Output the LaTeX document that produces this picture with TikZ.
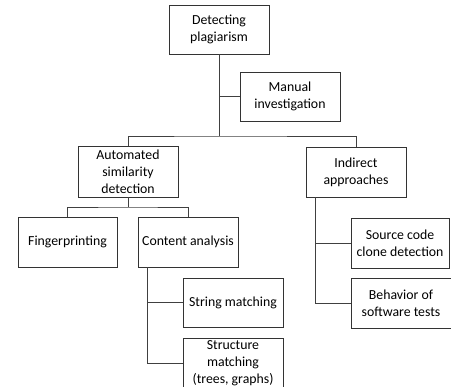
\documentclass[tikz,border=0pt]{standalone}
\usepackage{fontspec}
\setmainfont{Carlito}
\begin{document}
\begin{tikzpicture}[x=1pt,y=-1pt,
  box/.style={draw=black!80, line width=0.9pt, minimum width=100pt, minimum height=50pt,
    align=center, inner sep=0pt, font=\fontsize{13.8}{16.8}\selectfont},
  conn/.style={draw=black!75, line width=0.9pt}]
\useasboundingbox (0,0) rectangle (451,387);
\clip (0,0) rectangle (451,387);
\node[box, minimum height=49pt] (det) at (219,29.5) {Detecting\\plagiarism};
\node[box, minimum height=49pt] (man) at (290,96.5) {Manual\\investigation};
\node[box, minimum height=51pt] (auto) at (128,171.5) {Automated\\similarity\\detection};
\node[box] (ind) at (356,172) {Indirect\\approaches};
\node[box, minimum width=99pt] (fing) at (67.5,242) {Fingerprinting};
\node[box] (cont) at (188,242) {Content analysis};
\node[box, minimum height=49pt] (str) at (233,302.5) {String matching};
\node[box] (struct) at (233,363) {Structure\\matching\\(trees, graphs)};
\node[box, minimum width=98pt] (src) at (400,243) {Source code\\clone detection};
\node[box] (beh) at (401,303) {Behavior of\\software tests};
\coordinate (bus) at (219,136);
\coordinate (ab) at (128,207);
\draw[conn] (det.south) -- (bus);
\draw[conn] (det.south |- man.west) -- (man.west);
\draw[conn] (auto.north) |- (bus) -| (ind.north);
\draw[conn] (auto.south) -- (ab);
\draw[conn] (fing.north) |- (ab) -| (cont.north);
\draw[conn] ([xshift=10pt]cont.south west) |- (str.west);
\draw[conn] ([xshift=10pt]cont.south west) |- (struct.west);
\draw[conn] ([xshift=10pt]ind.south west) |- (src.west);
\draw[conn] ([xshift=10pt]ind.south west) |- (beh.west);
\end{tikzpicture}
\end{document}
